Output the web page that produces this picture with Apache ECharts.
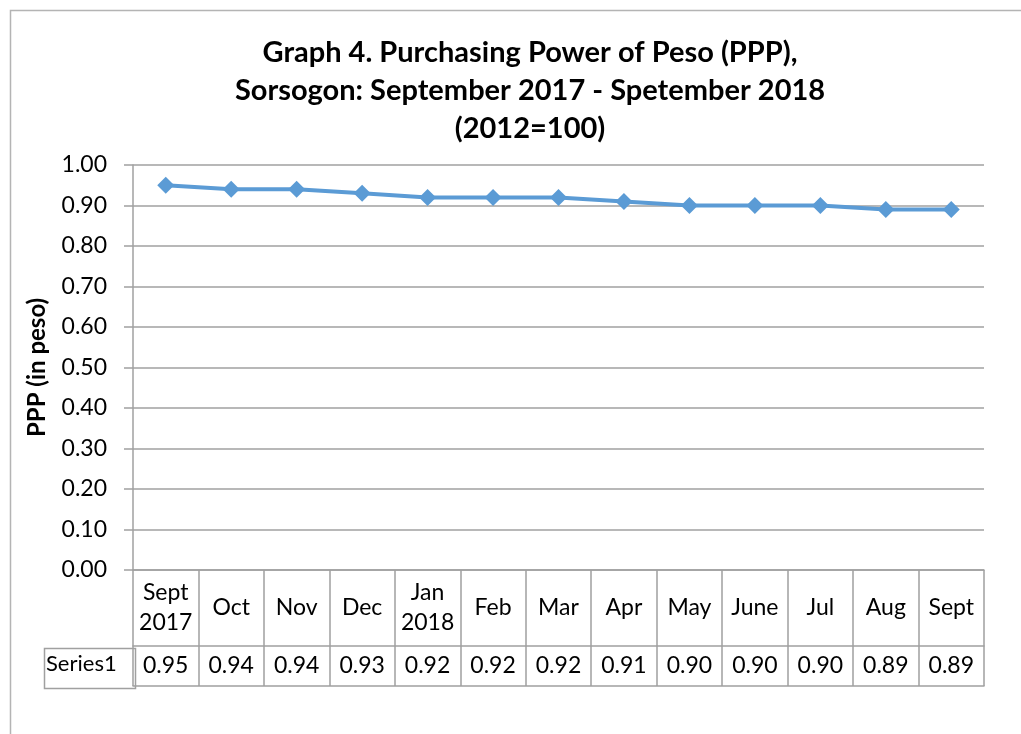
<!DOCTYPE html>
<html lang="en">
<head>
    <meta http-equiv="Content-Type" content="text/html; charset=utf-8"/>
    <title>Purchasing Power of Peso</title>
    <script src="https://cdn.jsdelivr.net/npm/echarts@6/dist/echarts.min.js"></script>
</head>
<body>
<style>
    html, body {
        margin: 0;
        padding: 0;
        background: #fff;
    }

    #chart {
        width: 1021px;
        height: 734px;
    }
</style>
<div id="chart"></div>
<script type="text/javascript">

  var months = ['Sept\n2017', 'Oct', 'Nov', 'Dec', 'Jan\n2018', 'Feb', 'Mar', 'Apr', 'May', 'June', 'Jul', 'Aug', 'Sept'];
  var ppp = [0.95, 0.94, 0.94, 0.93, 0.92, 0.92, 0.92, 0.91, 0.90, 0.90, 0.90, 0.89, 0.89];
  var seriesName = 'Series1';

  var FONT = 'Lato';
  var GRAY = '#a0a0a0';

  var myChart = echarts.init(document.getElementById('chart'));

  var option = {
    animation: false,
    backgroundColor: '#fff',
    title: {
      text: 'Graph 4. Purchasing Power of Peso (PPP),\nSorsogon: September 2017 - Spetember 2018\n(2012=100)',
      left: 525,
      top: 29,
      textAlign: 'center',
      textStyle: {
        fontFamily: FONT,
        fontWeight: 'bold',
        fontSize: 29,
        lineHeight: 38,
        color: '#000'
      }
    },
    grid: {
      left: 133,
      right: 37,
      top: 165,
      bottom: 164
    },
    xAxis: [
      {
        // category row of the data table
        type: 'category',
        data: months,
        boundaryGap: true,
        axisLine: {lineStyle: {color: GRAY, width: 1.5}},
        axisTick: {show: true, length: 116, interval: 0, lineStyle: {color: GRAY, width: 1.5}},
        axisLabel: {
          interval: 0,
          margin: 38,
          verticalAlign: 'middle',
          fontFamily: FONT,
          fontSize: 23,
          lineHeight: 30,
          color: '#000'
        }
      },
      {
        // value row of the data table
        type: 'category',
        data: months,
        position: 'bottom',
        offset: 76,
        axisLine: {show: true, lineStyle: {color: GRAY, width: 1.5}},
        axisTick: {show: false},
        axisLabel: {
          interval: 0,
          margin: 20,
          verticalAlign: 'middle',
          fontFamily: FONT,
          fontSize: 23,
          color: '#000',
          formatter: function (value, index) {
            return ppp[index].toFixed(2);
          }
        }
      },
      {
        // bottom border of the table
        type: 'category',
        data: months,
        position: 'bottom',
        offset: 116,
        axisLine: {show: true, lineStyle: {color: GRAY, width: 1.5}},
        axisTick: {show: false},
        axisLabel: {show: false}
      }
    ],
    yAxis: {
      type: 'value',
      min: 0,
      max: 1,
      interval: 0.1,
      name: 'PPP (in peso)',
      nameLocation: 'middle',
      nameGap: 84,
      nameRotate: 90,
      nameTextStyle: {
        fontFamily: FONT,
        fontWeight: 'bold',
        fontSize: 24,
        color: '#000'
      },
      axisLine: {show: true, lineStyle: {color: GRAY, width: 1.5}},
      axisTick: {show: true, length: 9, lineStyle: {color: GRAY, width: 1.5}},
      splitLine: {lineStyle: {color: GRAY, width: 1.5}},
      axisLabel: {
        margin: 26,
        fontFamily: FONT,
        fontSize: 23,
        color: '#000',
        formatter: function (v) {
          return v.toFixed(2);
        }
      }
    },
    graphic: [
      {
        // outer chart border (left and top edges visible)
        type: 'rect',
        left: 8,
        top: 8,
        shape: {width: 1100, height: 800},
        style: {fill: null, stroke: '#b4b4b4', lineWidth: 1.5},
        silent: true
      },
      {
        // legend key cell of the table
        type: 'rect',
        left: 42,
        top: 646,
        shape: {width: 91, height: 40},
        style: {fill: null, stroke: GRAY, lineWidth: 1.5},
        silent: true
      },
      {
        type: 'text',
        left: 46,
        top: 653,
        style: {
          text: seriesName,
          fontFamily: FONT,
          fontSize: 22,
          fill: '#000'
        }
      }
    ],
    series: [
      {
        name: seriesName,
        type: 'line',
        data: ppp,
        symbol: 'diamond',
        symbolSize: 17,
        itemStyle: {color: '#5b9bd5'},
        lineStyle: {color: '#5b9bd5', width: 4}
      }
    ]
  };

  myChart.setOption(option);
</script>
</body>
</html>
